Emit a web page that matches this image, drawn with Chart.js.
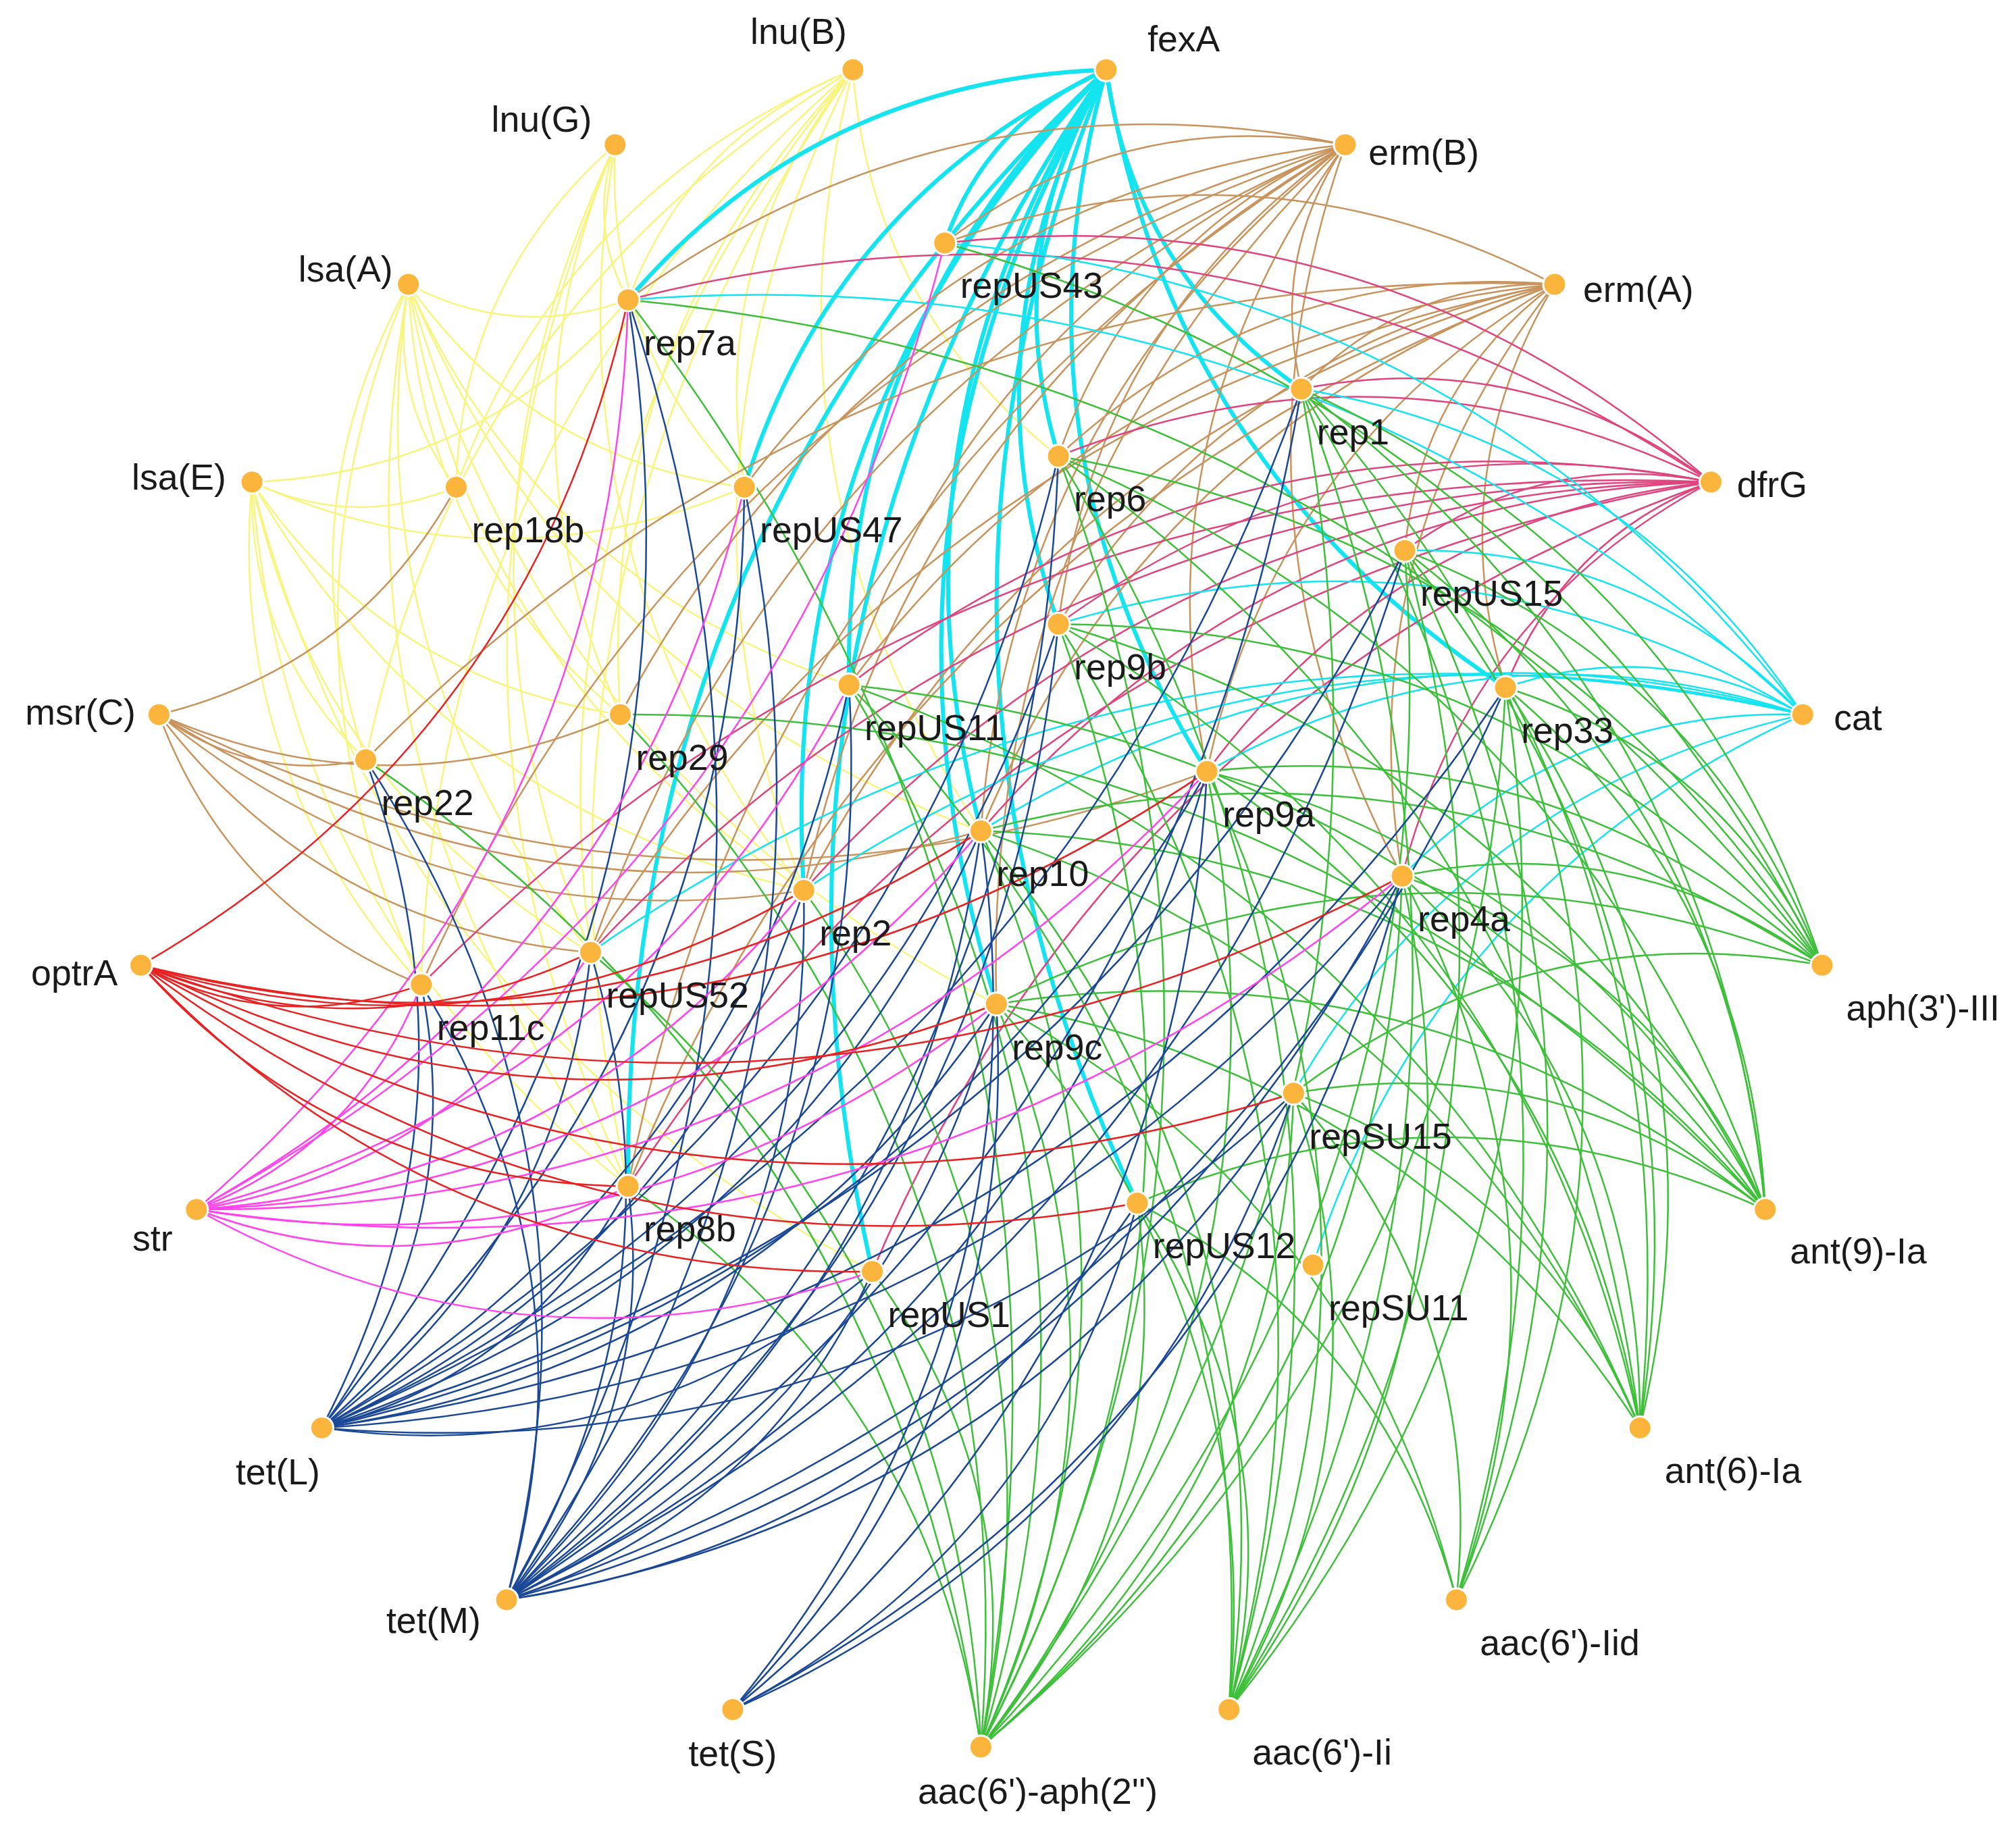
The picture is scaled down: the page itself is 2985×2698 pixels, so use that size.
<!DOCTYPE html>
<html><head><meta charset="utf-8">
<script src="https://cdn.jsdelivr.net/npm/chart.js@4/dist/chart.umd.min.js"></script>
<style>html,body{margin:0;padding:0;background:#fff}#w{width:2985px;height:2698px}</style>
</head><body><div id="w"><canvas id="c"></canvas></div>
<script>
// Node names and layout coordinates (network layout, data space)
const geneNames = ["lnu(B)","fexA","erm(B)","erm(A)","dfrG","cat","aph(3')-III","ant(9)-Ia","ant(6)-Ia","aac(6')-Iid","aac(6')-Ii","aac(6')-aph(2'')","tet(S)","tet(M)","tet(L)","str","optrA","msr(C)","lsa(E)","lsa(A)","lnu(G)"];
const geneX = [660,856,1041,1203,1324,1395,1410,1366,1269,1127,951,759,567,392,249,152,109,123,195,316,476];
const geneY = [54,54,112,220,373,553,747,936,1105,1238,1323,1352,1323,1238,1105,936,747,553,373,220,112];
const repNames = ["repUS43","rep7a","rep1","rep6","rep18b","repUS47","repUS15","rep9b","repUS11","rep29","rep33","rep22","rep9a","rep10","rep2","rep4a","repUS52","rep11c","rep9c","repSU15","rep8b","repUS12","repSU11","repUS1"];
const repX = [731,486,1007,819,353,576,1087,819,657,480,1165,283,934,759,622,1085,457,326,771,1001,486,880,1016,675];
const repY = [188,232,301,353,377,377,426,483,530,553,532,588,597,643,689,678,737,762,777,846,918,931,979,984];
// Links: gene -> rep
const links = {
 "lnu(B)":["rep7a","repUS47","rep18b","rep29","rep22","rep11c","repUS52","rep8b","rep2","rep6","rep10"],
 "lnu(G)":["rep7a","repUS47","rep18b","rep29","repUS52","rep2","rep8b"],
 "lsa(A)":["rep7a","repUS47","rep18b","rep29","rep22","rep11c","repUS52","rep8b","rep2","rep10","repUS11","rep9c"],
 "lsa(E)":["rep7a","rep18b","rep29","rep22","rep11c","repUS52","rep8b","repUS47","rep2","repUS1"],
 "fexA":["repUS43","rep7a","repUS47","repUS11","rep9b","rep10","rep9c","rep8b","repUS1","repUS12","rep9a","rep33","rep1","rep6","rep2"],
 "erm(B)":["repUS43","rep7a","rep1","rep6","repUS47","rep9b","repUS11","rep29","rep10","rep2","repUS52","rep11c","rep8b","rep9c","rep9a","rep4a"],
 "erm(A)":["repUS43","rep1","rep6","rep9b","repUS11","rep10","rep2","rep9a","rep4a","rep33","repUS52","rep8b","repUS15","rep22"],
 "msr(C)":["rep18b","rep22","rep10","rep2","repUS52","rep29","rep9a","rep11c"],
 "dfrG":["rep7a","repUS43","rep1","rep6","repUS15","rep9b","rep33","rep10","rep4a","repUS11","rep9a","repUS52","rep8b","rep2","rep11c","repUS1"],
 "cat":["rep7a","repUS43","rep1","repUS15","rep33","rep9a","rep10","rep9b","rep4a","repSU15","repSU11","rep2","repUS52"],
 "aph(3')-III":["rep1","rep6","repUS15","rep9b","rep33","rep9a","rep10","rep4a","repSU15","rep9c","repUS43","rep7a"],
 "ant(9)-Ia":["rep1","rep6","repUS15","rep33","rep9a","rep10","rep4a","rep9c","repSU15","repUS12","rep9b","repUS11","rep29"],
 "ant(6)-Ia":["rep1","repUS15","rep33","rep9a","rep4a","repSU15","rep9b","rep6","rep10","rep9c","repUS11"],
 "aac(6')-Iid":["rep1","repUS15","rep33","rep4a","repSU15","rep9c","repUS12"],
 "aac(6')-Ii":["rep1","repUS15","rep9b","rep33","rep9a","rep10","rep4a","rep9c","repSU15","repUS12","rep6","repUS11"],
 "aac(6')-aph(2'')":["rep7a","rep1","rep6","repUS15","rep9b","repUS11","rep33","rep9a","rep10","rep4a","rep9c","repSU15","repUS12","rep8b","repUS1","rep2","repUS52","rep22","rep29"],
 "tet(S)":["rep10","rep9c","repSU15","rep4a","repUS12","rep9a"],
 "tet(M)":["rep7a","repUS47","repUS11","rep9b","rep6","rep1","repUS15","rep33","rep9a","rep10","rep4a","rep9c","repSU15","repUS12","rep8b","repUS1","rep2","repUS52","rep11c","rep22"],
 "tet(L)":["rep7a","repUS47","repUS11","rep9b","rep6","rep1","repUS15","rep33","rep9a","rep10","rep4a","rep9c","repSU15","rep8b","repUS1","rep2","repUS52","rep11c","rep22"],
 "str":["rep7a","repUS43","repUS47","repUS11","rep10","rep9c","rep4a","repUS52","rep11c","rep8b","repUS1","rep2","rep9a"],
 "optrA":["rep7a","rep10","rep9c","rep4a","repUS12","repUS1","rep8b","repUS52","rep11c","repSU15","rep9a","rep2"]
};
// Styles
const YEL="#f7f57e",TAN="#c8935c",CYA="#14e4f0",PNK="#e0447e",GRN="#3dbf3a",BLU="#1a4896",MAG="#ff44ee",RED="#e82222";
const geneColor={"lnu(B)":YEL,"lnu(G)":YEL,"lsa(A)":YEL,"lsa(E)":YEL,"fexA":CYA,"erm(B)":TAN,"erm(A)":TAN,"msr(C)":TAN,"dfrG":PNK,"cat":CYA,"aph(3')-III":GRN,"ant(9)-Ia":GRN,"ant(6)-Ia":GRN,"aac(6')-Iid":GRN,"aac(6')-Ii":GRN,"aac(6')-aph(2'')":GRN,"tet(S)":BLU,"tet(M)":BLU,"tet(L)":BLU,"str":MAG,"optrA":RED};
const geneLabelOff=[[-42,-28,"center"],[60,-22,"center"],[18,8,"left"],[22,6,"left"],[20,4,"left"],[24,4,"left"],[78,35,"center"],[72,34,"center"],[72,35,"center"],[80,35,"center"],[72,35,"center"],[44,36,"center"],[0,36,"center"],[-20,18,"right"],[-34,36,"center"],[-34,24,"center"],[-18,8,"right"],[-18,0,"right"],[-20,-2,"right"],[-12,-10,"right"],[-18,-18,"right"]];

const nodes=[];
geneNames.forEach((n,i)=>nodes.push({x:geneX[i],y:geneY[i],name:n,off:geneLabelOff[i]}));
repNames.forEach((n,i)=>nodes.push({x:repX[i],y:repY[i],name:n,off:[12,35,"left"]}));
const byName={};nodes.forEach(p=>byName[p.name]=p);

const edgePlugin={id:"edges",beforeDatasetsDraw(chart){
 const ctx=chart.ctx,sx=chart.scales.x,sy=chart.scales.y;
 const k=sx.width/1560;
 ctx.save();
 Object.keys(links).forEach(g=>{
  const a=byName[g];
  links[g].forEach(r=>{
   const b=byName[r];
   const x1=sx.getPixelForValue(a.x),y1=sy.getPixelForValue(a.y),x2=sx.getPixelForValue(b.x),y2=sy.getPixelForValue(b.y);
   const mx=(x1+x2)/2,my=(y1+y2)/2,dx=x2-x1,dy=y2-y1;
   const cx=mx-dy*0.22,cy=my+dx*0.22;
   ctx.beginPath();ctx.moveTo(x1,y1);ctx.quadraticCurveTo(cx,cy,x2,y2);
   ctx.strokeStyle=geneColor[g];ctx.lineWidth=(g==="fexA"?3.2:1.3)*k;ctx.stroke();
  });
 });
 ctx.restore();
},afterDatasetsDraw(chart){
 const ctx=chart.ctx,sx=chart.scales.x,sy=chart.scales.y;const k=sx.width/1560;
 ctx.save();ctx.fillStyle="#1a1a1a";ctx.font=(28*k)+"px 'Liberation Sans', Arial, sans-serif";ctx.textBaseline="middle";
 nodes.forEach(p=>{ctx.textAlign=p.off[2];ctx.fillText(p.name,sx.getPixelForValue(p.x+p.off[0]),sy.getPixelForValue(p.y+p.off[1]));});
 ctx.restore();
}};

new Chart(document.getElementById("c"),{type:"scatter",
 data:{datasets:[{data:nodes,pointRadius:17,pointHoverRadius:17,pointBackgroundColor:"#fbb53c",pointBorderColor:"#ffffff",pointBorderWidth:3,clip:false}]},
 options:{responsive:true,maintainAspectRatio:false,animation:false,events:[],
  layout:{padding:0,autoPadding:false},
  plugins:{legend:{display:false},tooltip:{enabled:false}},
  scales:{x:{type:"linear",display:false,min:0,max:1560},y:{type:"linear",display:false,min:0,max:1410,reverse:true}}},
 plugins:[edgePlugin]});
</script></body></html>
